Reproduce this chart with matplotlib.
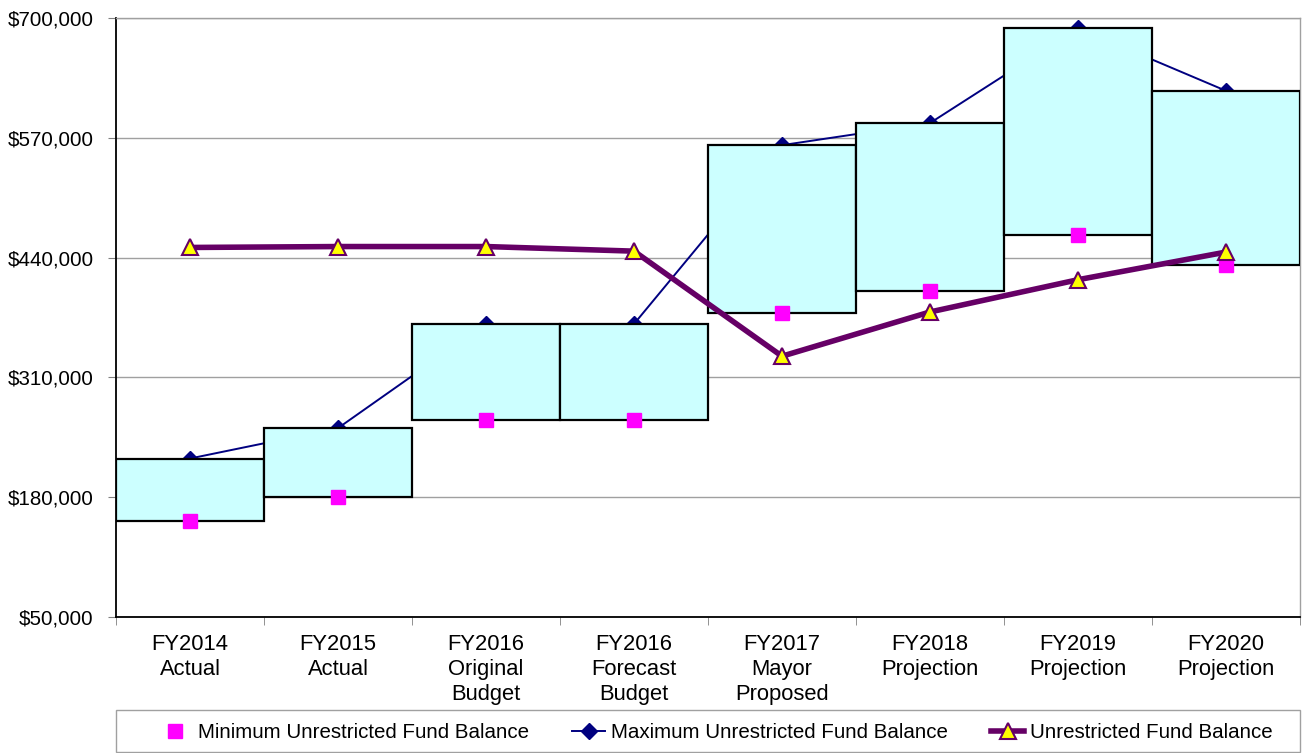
import matplotlib.pyplot as plt
import numpy as np
from matplotlib.ticker import FuncFormatter
from matplotlib.patches import Rectangle

plt.rcParams['font.family'] = ['Liberation Sans', 'DejaVu Sans']

# categories on the x axis
labels = ['FY2014\nActual', 'FY2015\nActual', 'FY2016\nOriginal\nBudget',
          'FY2016\nForecast\nBudget', 'FY2017\nMayor\nProposed',
          'FY2018\nProjection', 'FY2019\nProjection', 'FY2020\nProjection']

# values
min_bal = [154000, 180000, 264000, 264000, 380000, 404000, 465000, 432000]
max_bal = [222000, 255000, 368000, 368000, 562000, 586000, 689000, 621000]
unres_bal = [451000, 452000, 452000, 447000, 333000, 381000, 416000, 446000]

x = np.arange(len(labels))

fig = plt.figure(figsize=(13.07, 7.53), dpi=100)
ax = fig.add_axes([0.0888, 0.1806, 0.9058, 0.7955])

# max line sits behind the boxes
ax.plot(x, max_bal, color='#000080', lw=1.4, marker='D', ms=8, zorder=2,
        label='Maximum Unrestricted Fund Balance')
heights = [b - a for a, b in zip(min_bal, max_bal)]
ax.bar(x, heights, bottom=min_bal, width=1.0, color='#CCFFFF',
       edgecolor='black', lw=1.6, zorder=3)
ax.plot(x, min_bal, ls='none', marker='s', ms=10, color='#FF00FF',
        zorder=4, label='Minimum Unrestricted Fund Balance')
ax.plot(x, unres_bal, color='#660066', lw=4, marker='^', ms=11,
        mfc='#FFFF00', mec='#660066', mew=1.5, zorder=5,
        label='Unrestricted Fund Balance')

ax.set_xlim(-0.5, 7.5)
ax.set_ylim(50000, 700000)
ax.set_yticks(np.arange(50000, 700001, 130000))
ax.yaxis.set_major_formatter(FuncFormatter(lambda v, p: '${:,.0f}'.format(v)))
ax.grid(axis='y', color='#A0A0A0', lw=1, zorder=0)
ax.set_axisbelow(True)

ax.set_xticks(x)
ax.set_xticklabels(labels, fontsize=15.8, va='top', linespacing=1.27)
ax.set_xticks(np.arange(-0.5, 8, 1), minor=True)
ax.tick_params(axis='x', which='major', length=0, pad=12)
ax.tick_params(axis='x', which='minor', length=6, color='#808080')
ax.tick_params(axis='y', length=6, color='#808080', labelsize=14.8, pad=10)

for s in ['left', 'bottom']:
    ax.spines[s].set_color('black')
    ax.spines[s].set_linewidth(1.3)
for s in ['top', 'right']:
    ax.spines[s].set_color('#A0A0A0')
    ax.spines[s].set_linewidth(1)

# legend box across the bottom
fig.patches.append(Rectangle((116 / 1307, 1 - 752 / 753), 1184 / 1307, 42 / 753,
                             transform=fig.transFigure, fill=False,
                             edgecolor='#A0A0A0', lw=1))
h, l = ax.get_legend_handles_labels()
order = [1, 0, 2]
leg = fig.legend([h[i] for i in order], [l[i] for i in order], ncol=3,
                 loc='center', bbox_to_anchor=(716 / 1307, 1 - 733 / 753),
                 frameon=False, fontsize=14.8, handlelength=1.6,
                 handletextpad=0.3, borderpad=0, columnspacing=2.1)

fig.savefig('out.png', dpi=100)
